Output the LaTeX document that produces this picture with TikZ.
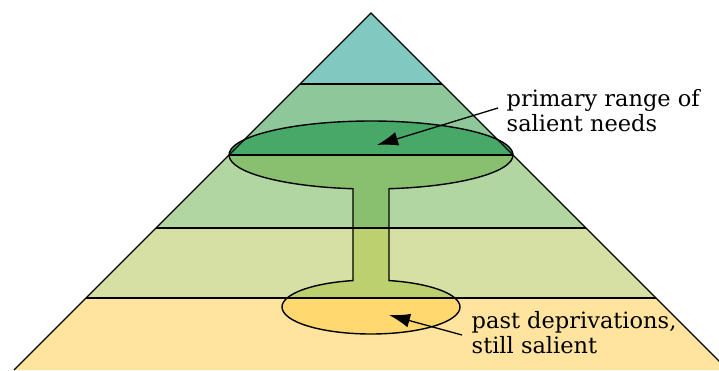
\documentclass[tikz,border=0pt]{standalone}
\usepackage{fontspec}
\setmainfont{DejaVu Serif}
\usetikzlibrary{calc, arrows.meta}

\definecolor{tierA}{HTML}{80C8C0}
\definecolor{tierB}{HTML}{8EC89A}
\definecolor{tierC}{HTML}{B2D6A2}
\definecolor{tierD}{HTML}{D6E0A4}
\definecolor{tierE}{HTML}{FFE4A0}
\definecolor{cupB}{HTML}{48A868}
\definecolor{cupC}{HTML}{88C070}
\definecolor{cupD}{HTML}{BCD070}
\definecolor{cupE}{HTML}{FFD870}

% outline of the goblet: upper ellipse, stem, lower ellipse
\newcommand{\gobletpath}{(389,181.27) arc[start angle=-82.72, end angle=262.72, x radius=142, y radius=34]
  -- (353,89.44) arc[start angle=101.67, end angle=438.33, x radius=89, y radius=27] -- cycle}

\begin{document}
\begin{tikzpicture}[x=1pt, y=1pt, line width=1.4pt,
    pointer/.style={-{Latex[length=21pt, width=14pt]}, line width=1.3pt},
    remark/.style={anchor=north west, inner sep=0pt, align=left, font=\fontsize{22.5}{25}\selectfont}]
    \useasboundingbox (0,0) rectangle (719,370);
    \clip (0,0) rectangle (719,370);
    \coordinate (A) at (371,357);
    \coordinate (L) at (14,0);
    \coordinate (R) at (728,0);
    % tiers and the part of the goblet in each
    \foreach \lo/\hi/\col/\cup in {0/72/tierE/cupE, 72/142/tierD/cupD, 142/215/tierC/cupC, 215/286/tierB/cupB, 286/360/tierA/tierA}{
        \begin{scope}
            \clip (0,\lo) rectangle (719,\hi);
            \fill[\col] (L) -- (A) -- (R) -- cycle;
            \fill[\cup] \gobletpath;
        \end{scope}
    }
    \draw \gobletpath;
    \draw (L) -- (A) -- (R);
    \foreach \y/\h in {72/285, 142/215, 215/142, 286/71}
        \draw (371-\h,\y) -- (371+\h,\y);
    % labels
    \node[remark] (needs) at (506,281) {primary range of\\salient needs};
    \node[remark] (past) at (471,59) {past deprivations,\\still salient};
    \coordinate (needsTail) at (498,262);
    \coordinate (needsTip) at (377,225);
    \coordinate (pastTail) at (462,35);
    \coordinate (pastTip) at (389,55);
    \draw[pointer] (needsTail) -- (needsTip);
    \draw[pointer] (pastTail) -- (pastTip);
\end{tikzpicture}
\end{document}
